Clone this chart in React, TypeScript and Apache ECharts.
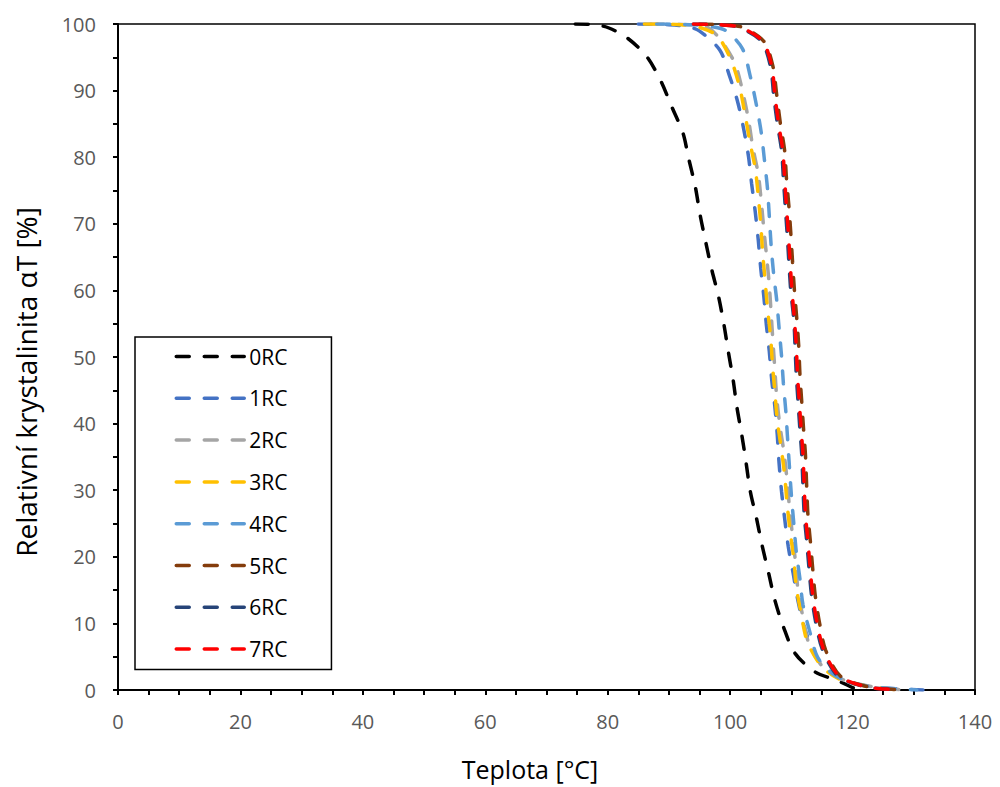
import React, { useEffect, useRef } from "react";
import * as echarts from "echarts";

const seriesNames = ["0RC", "1RC", "2RC", "3RC", "4RC", "5RC", "6RC", "7RC"];
const seriesColors = ["#000000", "#4472C4", "#A5A5A5", "#FFC000", "#5B9BD5", "#843C0C", "#264478", "#FF0000"];

const xTicks = [0, 20, 40, 60, 80, 100, 120, 140];
const yTicks = [0, 10, 20, 30, 40, 50, 60, 70, 80, 90, 100];

const rc0 = [[74.7,100],[78,99.9],[80.2,99.4],[83.2,97.9],[86.3,95.2],[88.6,91.6],[90.5,87.5],[92.3,83.6],[93.2,79.9],[94.3,75.6],[95.1,71.3],[96.0,67.3],[97.0,63.1],[98.1,59.1],[99.0,54.8],[99.7,50.8],[100.5,46.5],[101.1,42.5],[101.9,38.3],[102.5,34.8],[103.3,29.8],[104.3,25.8],[105.2,21.8],[106.3,17.5],[107.3,13.5],[108.7,9.5],[110.6,5.5],[113.9,2.7],[117.3,1.5],[119.1,0.75],[120.4,0.2],[121.5,0]];
const rc1 = [[85,100],[90,99.9],[93,99.6],[94.9,99.0],[98.3,96.1],[99.9,92.2],[101.2,88.4],[102.2,84.3],[103.0,80.1],[103.5,76.1],[104.1,71.8],[104.6,67.5],[105.0,63.3],[105.5,59.1],[105.9,55.0],[106.4,50.8],[106.8,46.5],[107.3,42.6],[107.7,38.3],[108.0,34.0],[108.4,29.8],[108.9,25.8],[109.5,21.5],[110.3,17.5],[111.1,13.3],[112.2,9.2],[114.0,5.1],[116.5,2.5],[119.5,1.2],[123,0.5],[127,0.2],[131.5,0]];
const rc2 = [[87,100],[93,99.9],[96.5,99.4],[99.0,96.9],[100.9,93.8],[102.1,89.6],[103.0,85.6],[103.7,81.5],[104.6,77.4],[105.1,73.2],[105.5,69.2],[106.0,64.7],[106.4,60.7],[106.7,56.5],[107.0,52.2],[107.3,48.2],[107.6,44.0],[108.1,39.9],[108.8,35.6],[109.3,31.5],[109.7,27.3],[110.2,23.1],[110.7,19.0],[111.1,14.9],[111.9,10.9],[112.9,6.9],[115.2,3.4],[118,1.7],[121,0.9],[124,0.4],[127,0.1],[129,0]];
const rc3 = [[86,100],[92,99.9],[95,99.5],[97.9,98.2],[100.1,94.7],[101.5,90.7],[102.4,86.6],[103.2,82.4],[104.1,78.3],[104.6,74.1],[105.0,70.0],[105.3,65.8],[105.7,61.6],[106.1,57.3],[106.6,53.1],[106.9,49.0],[107.3,44.8],[107.7,40.5],[108.3,36.6],[108.9,32.3],[109.3,28.0],[109.8,23.8],[110.4,19.7],[110.8,15.5],[111.6,11.5],[112.6,7.3],[114.9,3.6],[117.5,1.8],[120,1],[123,0.5],[126.5,0.1],[128,0]];
const rc4 = [[88,100],[94,99.9],[97,99.6],[99.3,99.0],[102.0,96.3],[103.3,92.1],[104.3,87.8],[105.1,83.6],[105.6,79.6],[106.1,75.3],[106.4,71.1],[106.7,66.7],[107.1,62.5],[107.6,58.6],[108.0,54.3],[108.4,50.1],[108.7,46.0],[109.1,41.8],[109.4,37.5],[109.7,33.3],[110.0,29.3],[110.4,25.0],[110.8,20.8],[111.4,16.7],[111.9,12.8],[113.0,8.8],[114.3,4.9],[116.8,2.4],[119.5,1.2],[123,0.5],[127,0.2],[130.5,0]];
const rc5 = [[95,100],[99,99.9],[102,99.5],[105.5,97.4],[107.0,93.6],[107.6,89.4],[108.2,85.1],[108.9,81.0],[109.2,76.8],[109.6,72.6],[109.9,68.7],[110.2,64.2],[110.5,60.0],[110.9,55.6],[111.2,51.7],[111.4,47.4],[111.7,43.2],[112.0,39.1],[112.3,35.3],[112.5,30.6],[112.7,26.4],[113.1,22.4],[113.5,18.1],[113.9,14.2],[114.6,10.1],[115.6,6.0],[118.0,2.1],[122.4,0.5],[127,0.05],[128,0]];
const rc6 = [[94,100],[98,99.9],[101.4,99.5],[105.1,97.4],[106.6,93.6],[107.1,89.4],[107.7,85.1],[108.4,81.0],[108.7,76.8],[109.0,72.6],[109.3,68.7],[109.6,64.2],[109.9,60.0],[110.4,55.6],[110.6,51.7],[110.8,47.4],[111.1,43.2],[111.4,39.1],[111.7,35.3],[111.9,30.6],[112.1,26.4],[112.5,22.4],[112.9,18.1],[113.3,14.2],[114.0,10.1],[115.1,6.0],[117.6,2.1],[122.0,0.5],[126.7,0.05],[128,0]];
const rc7 = [[94,100],[98,99.9],[101.6,99.5],[105.3,97.4],[106.8,93.6],[107.3,89.4],[107.9,85.1],[108.6,81.0],[108.9,76.8],[109.2,72.6],[109.5,68.7],[109.8,64.2],[110.1,60.0],[110.5,55.6],[110.8,51.7],[111.0,47.4],[111.3,43.2],[111.6,39.1],[111.9,35.3],[112.1,30.6],[112.3,26.4],[112.7,22.4],[113.1,18.1],[113.5,14.2],[114.2,10.1],[115.3,6.0],[117.8,2.1],[122.2,0.5],[126.9,0.05],[128,0]];

const seriesData = [rc0, rc1, rc2, rc3, rc4, rc5, rc6, rc7];

const FONT = "'Open Sans', 'Noto Sans', sans-serif";
const DASH = [13, 15];

export default function App() {
  const ref = useRef<HTMLDivElement>(null);
  useEffect(() => {
    if (!ref.current) return;
    const chart = echarts.init(ref.current, null, { renderer: "svg" });
    const option = {
      animation: false,
      backgroundColor: "#ffffff",
      grid: {
        left: 118,
        right: 25,
        top: 24,
        bottom: 97,
        show: true,
        borderColor: "#000000",
        borderWidth: 1.5,
        backgroundColor: "transparent",
      },
      xAxis: {
        type: "value",
        min: xTicks[0],
        max: xTicks[xTicks.length - 1],
        interval: 20,
        axisLine: { show: true, onZero: false, lineStyle: { color: "#000000", width: 2 } },
        axisTick: { show: true, inside: false, length: 5, lineStyle: { color: "#000000", width: 2 } },
        minorTick: { show: true, splitNumber: 4, length: 5, lineStyle: { color: "#000000", width: 2 } },
        splitLine: { show: false },
        axisLabel: { color: "#595959", fontSize: 20, fontFamily: FONT, margin: 21 },
      },
      yAxis: {
        type: "value",
        min: yTicks[0],
        max: yTicks[yTicks.length - 1],
        interval: 10,
        axisLine: { show: true, onZero: false, lineStyle: { color: "#000000", width: 2 } },
        axisTick: { show: true, inside: false, length: 5, lineStyle: { color: "#000000", width: 2 } },
        minorTick: { show: true, splitNumber: 2, length: 5, lineStyle: { color: "#000000", width: 2 } },
        splitLine: { show: false },
        axisLabel: { color: "#595959", fontSize: 20, fontFamily: FONT, margin: 22 },
      },
      legend: {
        show: true,
        orient: "vertical",
        left: 135,
        top: 337,
        padding: [9, 44, 10, 39.5],
        itemGap: 20.8,
        itemWidth: 68,
        itemHeight: 21,
        backgroundColor: "#ffffff",
        borderColor: "#000000",
        borderWidth: 1.5,
        borderRadius: 0,
        itemStyle: { opacity: 0 },
        lineStyle: { width: 3.5, type: DASH, cap: "round" },
        textStyle: { color: "#000000", fontSize: 21, fontFamily: FONT, lineHeight: 21 },
        data: seriesNames,
      },
      graphic: [
        {
          type: "text",
          x: 26,
          y: 382,
          rotation: Math.PI / 2,
          style: {
            text: "Relativní krystalinita αT [%]",
            fill: "#000000",
            font: `28px ${FONT}`,
            align: "center",
            verticalAlign: "middle",
          },
        },
        {
          type: "text",
          x: 530,
          y: 769,
          style: {
            text: "Teplota [°C]",
            fill: "#000000",
            font: `25px ${FONT}`,
            align: "center",
            verticalAlign: "middle",
          },
        },
      ],
      series: seriesNames.map((name, i) => ({
        name,
        type: "line",
        data: seriesData[i],
        symbol: "none",
        showSymbol: false,
        smooth: 0.3,
        color: seriesColors[i],
        lineStyle: { color: seriesColors[i], width: 3.5, type: DASH, cap: "round" },
        z: 2 + i,
      })),
    };
    chart.setOption(option);
    return () => chart.dispose();
  }, []);
  return (
    <div
      ref={ref}
      style={{ position: "fixed", left: 0, top: 0, width: 1000, height: 787, background: "#fff" }}
    />
  );
}
